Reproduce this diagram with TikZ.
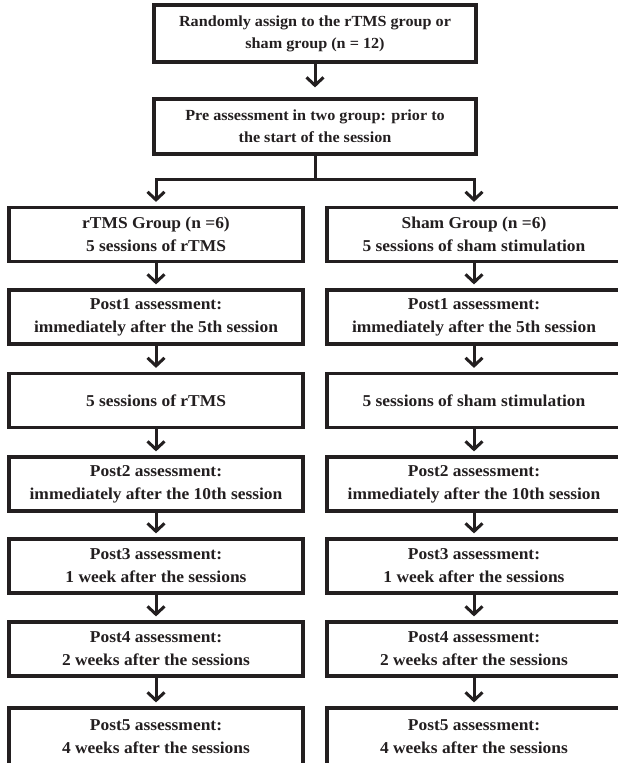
\documentclass[tikz,border=0pt]{standalone}
\usepackage{fontspec}
\setmainfont[FakeStretch=1.05]{Liberation Serif}
\usetikzlibrary{arrows.meta}
\definecolor{ink}{HTML}{231F20}
\begin{document}
\begin{tikzpicture}[x=1pt,y=-1pt,
  box/.style={draw=ink, line width=3.2pt, minimum width=294pt, minimum height=54pt, inner sep=0pt, align=center, font=\fontsize{16.6}{23}\selectfont\bfseries, text=ink},
  topbox/.style={box, minimum width=322pt, font=\fontsize{15.4}{22}\selectfont\bfseries},
  arr/.style={draw=ink, line width=3pt, -{Straight Barb[length=8pt,width=17pt]}, shorten >=4pt},
  ln/.style={draw=ink, line width=3pt}]
\useasboundingbox (0,0) rectangle (618,763);
\fill[white] (0,0) rectangle (618,763);
\clip (0,0) rectangle (618,763);
\node[topbox, minimum height=57pt] (a) at (315,33.5) {Randomly assign to the rTMS group or\\ sham group (n = 12)};
\node[topbox, minimum height=55pt] (b) at (315,126.5) {Pre assessment in two group: prior to\\ the start of the session};
\coordinate (j) at (315,179);
% left column
\node[box] (l1) at (156,234.5) {rTMS Group (n =6)\\ 5 sessions of rTMS};
\node[box] (l2) at (156,317) {Post1 assessment:\\ immediately after the 5th session};
\node[box] (l3) at (156,400.5) {5 sessions of rTMS};
\node[box] (l4) at (156,484) {Post2 assessment:\\ immediately after the 10th session};
\node[box] (l5) at (156,566) {Post3 assessment:\\ 1 week after the sessions};
\node[box] (l6) at (156,649) {Post4 assessment:\\ 2 weeks after the sessions};
\node[box, minimum height=58pt] (l7) at (156,737) {Post5 assessment:\\ 4 weeks after the sessions};
% right column
\node[box] (r1) at (474,234.5) {Sham Group (n =6)\\ 5 sessions of sham stimulation};
\node[box] (r2) at (474,317) {Post1 assessment:\\ immediately after the 5th session};
\node[box] (r3) at (474,400.5) {5 sessions of sham stimulation};
\node[box] (r4) at (474,484) {Post2 assessment:\\ immediately after the 10th session};
\node[box] (r5) at (474,566) {Post3 assessment:\\ 1 week after the sessions};
\node[box] (r6) at (474,649) {Post4 assessment:\\ 2 weeks after the sessions};
\node[box, minimum height=58pt] (r7) at (474,737) {Post5 assessment:\\ 4 weeks after the sessions};
% connectors
\draw[arr, shorten >=10pt] (a) -- (b);
\draw[ln] (b.south) -- (j);
\draw[arr] (j) -| (l1.north);
\draw[arr] (j) -| (r1.north);
\foreach \c in {l,r}{
  \draw[arr] (\c1) -- (\c2);
  \draw[arr] (\c2) -- (\c3);
  \draw[arr] (\c3) -- (\c4);
  \draw[arr] (\c4) -- (\c5);
  \draw[arr] (\c5) -- (\c6);
  \draw[arr] (\c6) -- (\c7);
}
\end{tikzpicture}
\end{document}
